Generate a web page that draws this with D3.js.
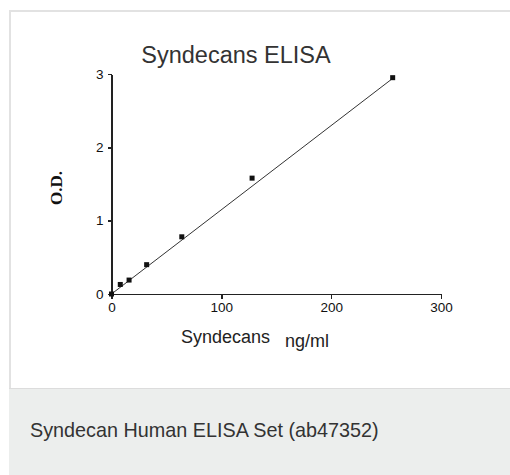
<!DOCTYPE html>
<html>
<head>
<meta charset="utf-8">
<script src="https://cdn.jsdelivr.net/npm/d3@7"></script>
<style>
  html, body { margin: 0; padding: 0; background: #fff; }
  svg { display: block; }
  .axis text { font-family: "Liberation Sans", Arial, sans-serif; font-size: 13.5px; fill: #111; }
  .axis path, .axis line { stroke: #222; stroke-width: 1.6; shape-rendering: crispEdges; }
</style>
</head>
<body>
<svg id="chart"></svg>
<script>
// standard curve readings
const concentrations = [0, 8, 16, 32, 64, 128, 256];
const odValues = [0.0, 0.13, 0.19, 0.40, 0.78, 1.58, 2.95];
// fitted line end points
const fitConc = [0, 256];
const fitOD = [0.0, 2.94];
const xTicks = [0, 100, 200, 300];
const yTicks = [0, 1, 2, 3];

const width = 510;
const height = 475;
const svg = d3.select("#chart")
  .attr("width", width)
  .attr("height", height);

// card frame + caption strip
svg.append("rect")
  .attr("x", 10).attr("y", 11)
  .attr("width", 520).attr("height", 500)
  .attr("fill", "#fff")
  .attr("stroke", "#e2e2e2")
  .attr("stroke-width", 2);
svg.append("rect")
  .attr("x", 9).attr("y", 388)
  .attr("width", 510).attr("height", 100)
  .attr("fill", "#eceeed");
svg.append("line")
  .attr("x1", 9).attr("x2", 510)
  .attr("y1", 388.5).attr("y2", 388.5)
  .attr("stroke", "#dcdcdc");
svg.append("text")
  .attr("x", 30).attr("y", 437)
  .attr("font-family", "'Liberation Sans', Arial, sans-serif")
  .attr("font-size", 19.8)
  .attr("fill", "#333")
  .text("Syndecan Human ELISA Set (ab47352)");

const x = d3.scaleLinear().domain([0, 300]).range([111.5, 441]);
const y = d3.scaleLinear().domain([0, 3]).range([294, 74]);

svg.append("g")
  .attr("class", "axis")
  .attr("transform", "translate(0,294)")
  .call(d3.axisBottom(x).tickValues(xTicks).tickSizeInner(5).tickSizeOuter(0).tickPadding(3));

svg.append("g")
  .attr("class", "axis")
  .attr("transform", "translate(111.5,0)")
  .call(d3.axisLeft(y).tickValues(yTicks).tickFormat(d3.format("d"))
    .tickSizeInner(4).tickSizeOuter(0).tickPadding(4));

// fitted line
const line = d3.line()
  .x(d => x(d[0]))
  .y(d => y(d[1]));
svg.append("path")
  .datum(d3.zip(fitConc, fitOD))
  .attr("d", line)
  .attr("fill", "none")
  .attr("stroke", "#333")
  .attr("stroke-width", 1);

// data points
svg.append("g")
  .selectAll("rect")
  .data(d3.zip(concentrations, odValues))
  .enter().append("rect")
    .attr("x", d => x(d[0]) - 2.5)
    .attr("y", d => y(d[1]) - 2.5)
    .attr("width", 5)
    .attr("height", 5)
    .attr("fill", "#111");

// titles
svg.append("text")
  .attr("x", 236).attr("y", 63)
  .attr("text-anchor", "middle")
  .attr("font-family", "'Liberation Sans', Arial, sans-serif")
  .attr("font-size", 23.5)
  .attr("fill", "#333")
  .text("Syndecans ELISA");

svg.append("text")
  .attr("transform", "translate(62,188) rotate(-90)")
  .attr("text-anchor", "middle")
  .attr("font-family", "'Liberation Serif', 'Times New Roman', serif")
  .attr("font-weight", "bold")
  .attr("font-size", 17)
  .attr("fill", "#111")
  .text("O.D.");

svg.append("text")
  .attr("x", 181).attr("y", 343)
  .attr("font-family", "'Liberation Sans', Arial, sans-serif")
  .attr("font-size", 18)
  .attr("fill", "#222")
  .text("Syndecans");
svg.append("text")
  .attr("x", 285).attr("y", 346.5)
  .attr("font-family", "'Liberation Sans', Arial, sans-serif")
  .attr("font-size", 18)
  .attr("fill", "#222")
  .text("ng/ml");
</script>
</body>
</html>
